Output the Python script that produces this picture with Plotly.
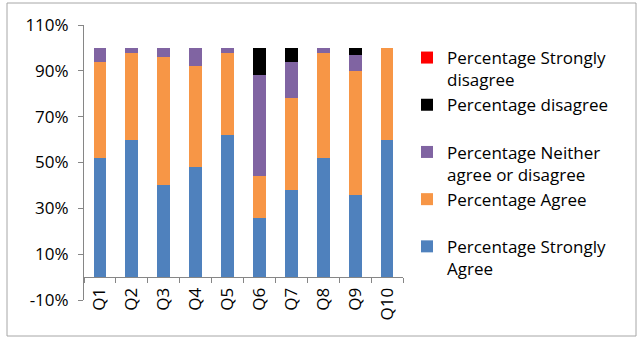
import plotly.graph_objects as go

categories = ["Q1", "Q2", "Q3", "Q4", "Q5", "Q6", "Q7", "Q8", "Q9", "Q10"]
strongly_agree = [52, 60, 40, 48, 62, 26, 38, 52, 36, 60]
agree = [42, 38, 56, 44, 36, 18, 40, 46, 54, 40]
neither = [6, 2, 4, 8, 2, 44, 16, 2, 7, 0]
disagree = [0, 0, 0, 0, 0, 12, 6, 0, 3, 0]
strongly_disagree = [0, 0, 0, 0, 0, 0, 0, 0, 0, 0]

series = [
    ("Percentage Strongly<br>Agree", strongly_agree, "#4F81BD"),
    ("Percentage Agree<br> ", agree, "#F79646"),
    ("Percentage Neither<br>agree or disagree", neither, "#8064A2"),
    ("Percentage disagree<br> ", disagree, "#000000"),
    ("Percentage Strongly<br>disagree", strongly_disagree, "#FF0000"),
]

y_ticks = [-10, 10, 30, 50, 70, 90, 110]

fig = go.Figure()
for name, vals, color in series:
    fig.add_trace(go.Bar(x=categories, y=vals, name=name, marker_color=color,
                         marker_line_width=0))

FONT = "Open Sans"
FS = 17
L, R, T, B = 84, 240, 25, 40
W, H = 643, 340
pw, ph = W - L - R, H - T - B

fig.update_layout(
    width=W, height=H,
    margin=dict(l=L, r=R, t=T, b=B),
    barmode="stack", bargap=0.6,
    plot_bgcolor="white", paper_bgcolor="white",
    font=dict(family=FONT, size=FS, color="#000000"),
    showlegend=True,
    legend=dict(x=(407 - L) / pw, xanchor="left", y=(H - B - 40) / ph, yanchor="top",
                traceorder="reversed", valign="top",
                font=dict(family=FONT, size=FS, color="#000000"),
                bgcolor="rgba(0,0,0,0)"),
    yaxis=dict(range=[-10, 110], tickvals=y_ticks, ticktext=[f"{v}%" for v in y_ticks],
               showgrid=False, zeroline=False, showline=True, linecolor="#868686",
               ticks="outside", ticklen=5, tickcolor="#868686", ticklabelstandoff=6,
               tickfont=dict(family=FONT, size=FS)),
    xaxis=dict(type="category", anchor="free", position=10 / 120,
               showline=True, linecolor="#868686", showgrid=False,
               ticks="outside", ticklen=5, tickcolor="#868686", tickson="boundaries",
               ticklabelstandoff=3,
               tickangle=-90, tickfont=dict(family=FONT, size=FS)),
    shapes=[dict(type="rect", xref="paper", yref="paper",
                 x0=(7 - L) / pw, x1=(636 - L) / pw,
                 y0=-(336 - (H - B)) / ph, y1=((H - B) - 3) / ph,
                 line=dict(color="#A6A6A6", width=1), layer="below")],
)

fig.write_html("out.html")
